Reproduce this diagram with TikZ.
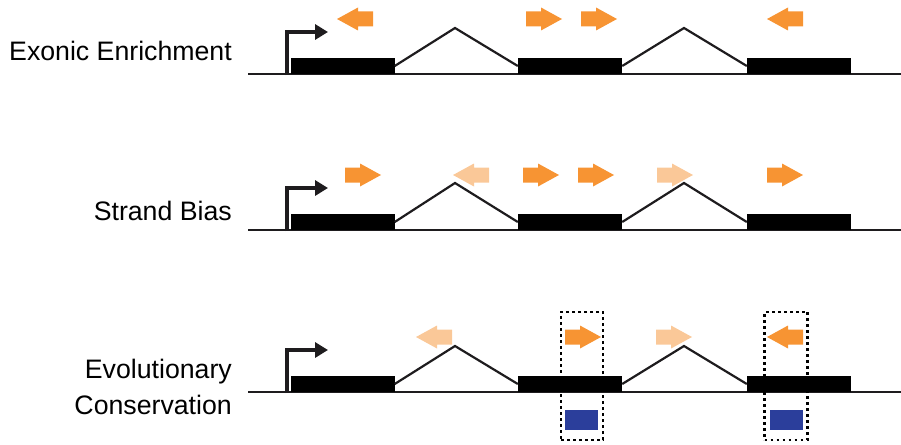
\documentclass[tikz,border=0pt]{standalone}
\usepackage{fontspec}
\setmainfont{Liberation Sans}
\usetikzlibrary{arrows.meta}
\definecolor{ora}{RGB}{247,148,51}
\definecolor{lora}{RGB}{250,200,152}
\definecolor{cons}{RGB}{43,62,155}
\definecolor{ink}{RGB}{30,28,30}
\begin{document}
\begin{tikzpicture}[x=1pt,y=-1pt,
  exon/.style={fill=black, inner sep=0pt, minimum width=104pt, minimum height=16pt},
  gene/.style={draw=ink, line width=2.5pt},
  intron/.style={draw=ink, line width=2.2pt, line join=miter},
  prom/.style={draw=ink, line width=3.5pt, line join=miter, -{Triangle[length=13pt,width=15pt]}},
  lab/.style={anchor=base east, inner sep=0pt, font=\fontsize{26.7}{32}\selectfont},
  box/.style={draw=black, line width=2.6pt, dash pattern=on 2.6pt off 3.4pt},
  consbox/.style={fill=cons},
  rarrow/.pic={\fill (-18,-7.5) -- (-3,-7.5) -- (-3,-11.5) -- (18,0) -- (-3,11.5) -- (-3,7.5) -- (-18,7.5) -- cycle;},
  larrow/.pic={\fill (18,-7.5) -- (3,-7.5) -- (3,-11.5) -- (-18,0) -- (3,11.5) -- (3,7.5) -- (18,7.5) -- cycle;}
]
\useasboundingbox (0,0) rectangle (901,444);

% ---------- Row 1: Exonic Enrichment ----------
\node[lab] (t1) at (232,60) {Exonic Enrichment};
\coordinate (a1) at (248,74);
\coordinate (b1) at (901,74);
\draw[gene] (a1) -- (b1);
\node[exon] (e11) at (342.5,66) {};
\node[exon] (e12) at (570,66) {};
\node[exon] (e13) at (799,66) {};
\coordinate (p11) at (455,28);
\coordinate (p12) at (684,28);
\draw[intron] (e11.east) -- (p11) -- (e12.west);
\draw[intron] (e12.east) -- (p12) -- (e13.west);
\coordinate (s1) at (287,75);
\coordinate (c1) at (287,32);
\coordinate (d1) at (328,32);
\draw[prom] (s1) -- (c1) -- (d1);
\pic[fill=ora] (r11) at (355,19) {larrow};
\pic[fill=ora] (r12) at (544,19) {rarrow};
\pic[fill=ora] (r13) at (599,19) {rarrow};
\pic[fill=ora] (r14) at (785,19) {larrow};

% ---------- Row 2: Strand Bias ----------
\node[lab] (t2) at (232,220) {Strand Bias};
\coordinate (a2) at (248,230);
\coordinate (b2) at (901,230);
\draw[gene] (a2) -- (b2);
\node[exon] (e21) at (342.5,222) {};
\node[exon] (e22) at (570,222) {};
\node[exon] (e23) at (799,222) {};
\coordinate (p21) at (455,183);
\coordinate (p22) at (684,183);
\draw[intron] (e21.east) -- (p21) -- (e22.west);
\draw[intron] (e22.east) -- (p22) -- (e23.west);
\coordinate (s2) at (287,231);
\coordinate (c2) at (287,188);
\coordinate (d2) at (328,188);
\draw[prom] (s2) -- (c2) -- (d2);
\pic[fill=ora] (r21) at (363,175) {rarrow};
\pic[fill=lora] (r22) at (471,175) {larrow};
\pic[fill=ora] (r23) at (541,175) {rarrow};
\pic[fill=ora] (r24) at (596,175) {rarrow};
\pic[fill=lora] (r25) at (675,175) {rarrow};
\pic[fill=ora] (r26) at (785,175) {rarrow};

% ---------- Row 3: Evolutionary Conservation ----------
\node[lab] (t3a) at (232,378) {Evolutionary};
\node[lab] (t3b) at (232,414) {Conservation};
\coordinate (a3) at (248,392);
\coordinate (b3) at (901,392);
\draw[gene] (a3) -- (b3);
\node[exon] (e31) at (342.5,384) {};
\node[exon] (e32) at (570,384) {};
\node[exon] (e33) at (799,384) {};
\coordinate (p31) at (455,346);
\coordinate (p32) at (684,346);
\draw[intron] (e31.east) -- (p31) -- (e32.west);
\draw[intron] (e32.east) -- (p32) -- (e33.west);
\coordinate (s3) at (287,393);
\coordinate (c3) at (287,350);
\coordinate (d3) at (328,350);
\draw[prom] (s3) -- (c3) -- (d3);
\pic[fill=lora] (r31) at (434,337) {larrow};
\pic[fill=ora] (r32) at (583,337) {rarrow};
\pic[fill=lora] (r33) at (674,337) {rarrow};
\pic[fill=ora] (r34) at (785,337) {larrow};
\node[consbox, minimum width=33pt, minimum height=20pt, inner sep=0pt] (k1) at (581.5,420) {};
\node[consbox, minimum width=33pt, minimum height=20pt, inner sep=0pt] (k2) at (786.5,420) {};
\node[box, minimum width=42pt, minimum height=128pt, inner sep=0pt] (w1) at (582,376) {};
\node[box, minimum width=43pt, minimum height=128pt, inner sep=0pt] (w2) at (786,376) {};
\end{tikzpicture}
\end{document}
